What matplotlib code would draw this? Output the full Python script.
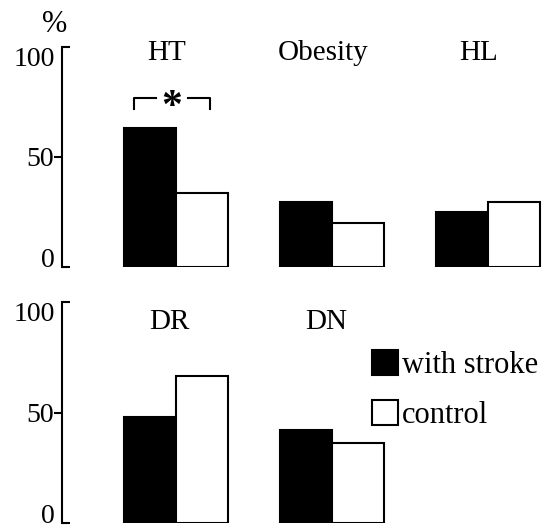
import matplotlib
matplotlib.use('Agg')
import matplotlib.pyplot as plt
import matplotlib.transforms as mtransforms
import numpy as np

plt.rcParams['font.family'] = ['Liberation Serif', 'DejaVu Serif']
plt.rcParams['font.size'] = 16

top_names = ['HT', 'Obesity', 'HL']
top_stroke = [63, 29.5, 25]
top_control = [33.5, 20, 29.5]

bot_names = ['DR', 'DN']
bot_stroke = [48, 42]
bot_control = [66.5, 36]

W, H = 549, 529
fig = plt.figure(figsize=(W / 100, H / 100), dpi=100)

def make_axes(bottom_px, top_px):
	return fig.add_axes([62 / W, (H - bottom_px) / H, (W - 62) / W, (bottom_px - top_px) / H])

def style(ax):
	ax.set_xlim(-0.73, 2.39)
	ax.set_ylim(0, 100)
	for s in ['top', 'right', 'bottom']:
		ax.spines[s].set_visible(False)
	ax.spines['left'].set_linewidth(1.5)
	ax.set_xticks([])
	ax.set_yticks([50], labels=['50'])
	ax.set_yticks([0, 100], labels=['', ''], minor=True)
	ax.tick_params(axis='y', which='major', direction='out', length=6, width=1.5, pad=0, labelsize=20)
	ax.tick_params(axis='y', which='minor', direction='in', length=6, width=1.5)
	# end labels: 0 sits on the tick, 100 hangs below it
	tr = ax.get_yaxis_transform()
	ax.text(0, 0, '0', transform=mtransforms.offset_copy(tr, fig=fig, x=-5, y=0, units='points'),
		ha='right', va='baseline', fontsize=20, clip_on=False)
	ax.text(0, 100, '100', transform=mtransforms.offset_copy(tr, fig=fig, x=-5, y=-13.5, units='points'),
		ha='right', va='baseline', fontsize=20, clip_on=False)
	ax.patch.set_alpha(0)

bw = 0.335

def bars(ax, names, stroke, control):
	x = np.arange(len(names))
	b1 = ax.bar(x - bw / 2, stroke, bw, color='black', edgecolor='black', linewidth=1.5, label='with stroke')
	b2 = ax.bar(x + bw / 2, control, bw, color='white', edgecolor='black', linewidth=1.5, label='control')
	return b1, b2

ax1 = make_axes(267, 47)
style(ax1)
bars(ax1, top_names, top_stroke, top_control)
for i, n in enumerate(top_names):
	ax1.text(i - 0.06, 97.5, n, ha='center', va='center', fontsize=21)

# significance bracket
ax1.plot([-0.27, -0.27, -0.13], [72, 77, 77], color='black', lw=1.5)
ax1.plot([0.08, 0.22, 0.22], [77, 77, 72], color='black', lw=1.5)
ax1.text(-0.03, 72.5, '*', ha='center', va='center', fontsize=30, fontweight='bold')

ax2 = make_axes(523, 302)
style(ax2)
b1, b2 = bars(ax2, bot_names, bot_stroke, bot_control)
for i, n in enumerate(bot_names):
	ax2.text(i - 0.04, 91, n, ha='center', va='center', fontsize=21)

fig.legend(handles=[b1, b2], loc='upper left', bbox_to_anchor=(372 / W, 1 - 350 / H),
	frameon=False, handlelength=0.85, handleheight=0.9, handletextpad=0.13,
	labelspacing=0.65, fontsize=22, borderaxespad=0, borderpad=0)

fig.text(55 / W, 1 - 25 / H, '%', ha='center', va='center', fontsize=22)

fig.savefig('out.png', dpi=100)
